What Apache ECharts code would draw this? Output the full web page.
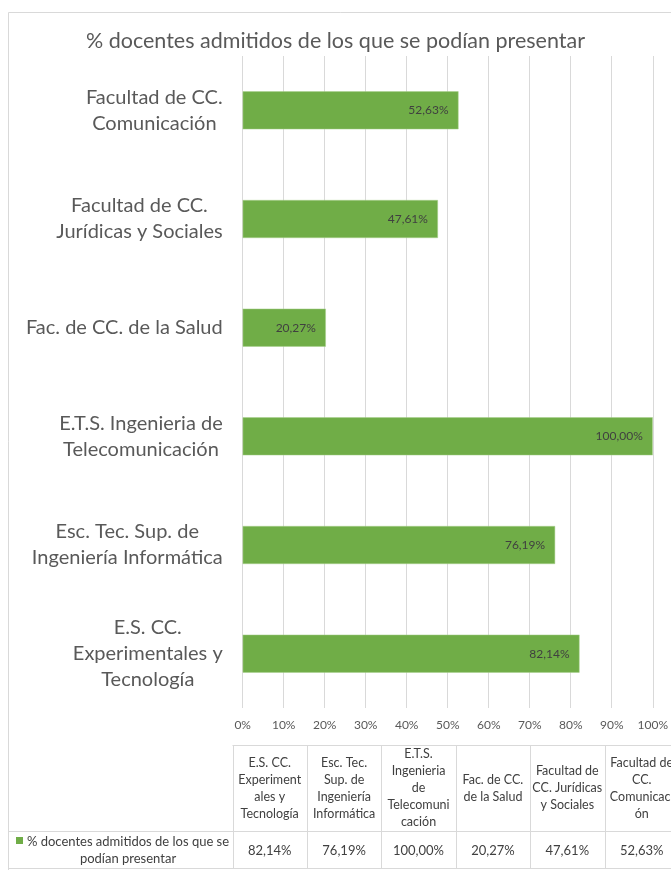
<!DOCTYPE html>
<html>
<head>
<meta charset="utf-8">
<script src="https://cdn.jsdelivr.net/npm/echarts@6/dist/echarts.min.js"></script>
<style>
  html, body { margin: 0; padding: 0; background: #fff; }
  #chart { width: 671px; height: 870px; }
</style>
</head>
<body>
<div id="chart"></div>
<script>
// data, bottom to top on the chart = left to right in the table
const seriesName = '% docentes admitidos de los que se podían presentar'
const categories = [
  'E.S. CC.\nExperimentales y\nTecnología',
  'Esc. Tec. Sup. de\nIngeniería Informática',
  'E.T.S. Ingenieria de\nTelecomunicación',
  'Fac. de CC. de la Salud',
  'Facultad de CC.\nJurídicas y Sociales',
  'Facultad de CC.\nComunicación',
]
const tableHeaders = [
  'E.S. CC.\nExperiment\nales y\nTecnología',
  'Esc. Tec.\nSup. de\nIngeniería\nInformática',
  'E.T.S.\nIngenieria\nde\nTelecomuni\ncación',
  'Fac. de CC.\nde la Salud',
  'Facultad de\nCC. Jurídicas\ny Sociales',
  'Facultad de\nCC.\nComunicaci\nón',
]
const values = [82.14, 76.19, 100.0, 20.27, 47.61, 52.63]

const green = '#70AD47'
const textColor = '#595959'
const lineColor = '#d9d9d9'
const font = 'Lato, "Open Sans", sans-serif'

const fmt = (v) => v.toFixed(2).replace('.', ',') + '%'

// data table layout
const tableTop = 745
const tableMid = 831
const tableBottom = 868
const firstColLeft = 8
const colLeft = 232.5
const colWidth = 74.4

const graphics = []
// outer chart border
graphics.push({
  type: 'rect',
  shape: { x: 8.5, y: 12.5, width: 720, height: 900 },
  style: { fill: 'none', stroke: lineColor, lineWidth: 1 },
  silent: true,
})
const hline = (x1, x2, y) => ({
  type: 'line',
  shape: { x1, y1: y + 0.5, x2, y2: y + 0.5 },
  style: { stroke: lineColor, lineWidth: 1 },
})
const vline = (x, y1, y2) => ({
  type: 'line',
  shape: { x1: x, y1, x2: x, y2 },
  style: { stroke: lineColor, lineWidth: 1 },
})
const tableRight = colLeft + colWidth * tableHeaders.length
graphics.push(hline(colLeft, tableRight, tableTop))
graphics.push(hline(firstColLeft, tableRight, tableMid))
graphics.push(hline(firstColLeft, tableRight, tableBottom))
for (let i = 0; i <= tableHeaders.length; i++) {
  graphics.push(vline(Math.round(colLeft + colWidth * i) + 0.5, tableTop, tableBottom))
}
tableHeaders.forEach((h, i) => {
  const cx = colLeft + colWidth * (i + 0.5)
  graphics.push({
    type: 'text',
    x: cx,
    y: (tableTop + tableMid) / 2,
    style: {
      text: h, align: 'center', verticalAlign: 'middle',
      fontSize: 12.5, lineHeight: 17, fontFamily: font, fill: '#404040',
    },
  })
  graphics.push({
    type: 'text',
    x: cx,
    y: (tableMid + tableBottom) / 2 + 1,
    style: {
      text: fmt(values[i]), align: 'center', verticalAlign: 'middle',
      fontSize: 13, fontFamily: font, fill: '#404040',
    },
  })
})
// legend key + series name in first column
graphics.push({
  type: 'rect',
  shape: { x: 16, y: 837, width: 7, height: 7 },
  style: { fill: green },
})
graphics.push({
  type: 'text',
  x: 128,
  y: (tableMid + tableBottom) / 2 + 1,
  style: {
    text: '% docentes admitidos de los que se\npodían presentar',
    align: 'center', verticalAlign: 'middle',
    fontSize: 13, lineHeight: 17, fontFamily: font, fill: '#404040',
  },
})

const chart = echarts.init(document.getElementById('chart'))
const option = {
  backgroundColor: '#fff',
  animation: false,
  title: {
    text: seriesName,
    left: 'center',
    top: 25,
    textStyle: { fontSize: 21.5, fontWeight: 'normal', color: textColor, fontFamily: font },
  },
  grid: { left: 242.7, right: 17.7, top: 56, bottom: 162, containLabel: false },
  xAxis: {
    type: 'value',
    min: 0,
    max: 100,
    interval: 10,
    axisLine: { show: false },
    axisTick: { show: false },
    axisLabel: {
      formatter: (v) => v + '%',
      color: textColor, fontSize: 12, fontFamily: font, margin: 11,
    },
    splitLine: { lineStyle: { color: lineColor, width: 1 } },
  },
  yAxis: {
    type: 'category',
    data: categories,
    axisLine: { show: false },
    axisTick: { show: false },
    axisLabel: {
      margin: 20,
      formatter: (v) => v.split('\n').map((l) => '{c|' + l + '}').join('\n'),
      rich: {
        c: { align: 'center', fontSize: 20, lineHeight: 26, color: textColor, fontFamily: font },
      },
    },
  },
  series: [
    {
      name: seriesName,
      type: 'bar',
      data: values,
      barWidth: 38,
      itemStyle: { color: green, borderColor: '#a9d18e', borderWidth: 0.5 },
      label: {
        show: true,
        position: 'insideRight',
        distance: 10,
        formatter: (p) => fmt(p.value),
        color: '#404040',
        fontSize: 12,
        fontFamily: font,
      },
    },
  ],
  graphic: graphics,
}
chart.setOption(option)
</script>
</body>
</html>
